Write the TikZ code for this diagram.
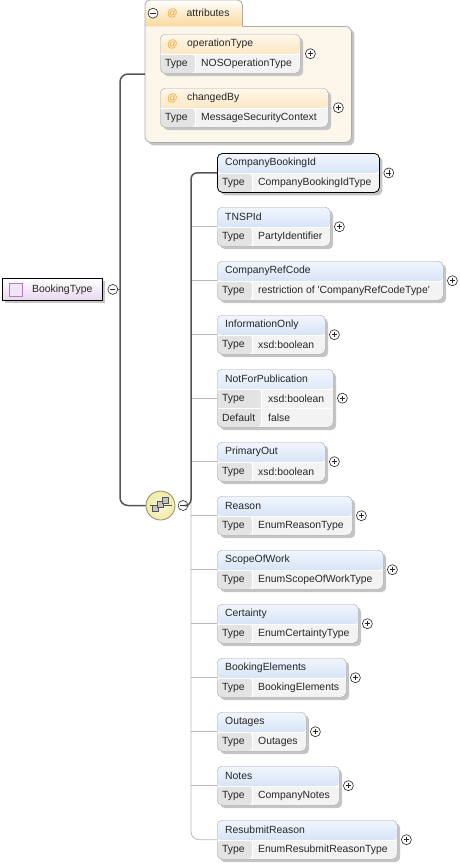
\documentclass[tikz,border=0pt]{standalone}
\usepackage{fontspec}
\setmainfont{Liberation Sans}
\usetikzlibrary{calc}
\usetikzlibrary{shadows}
\definecolor{hdrblue}{HTML}{BCD2F2}
\definecolor{hdrorange}{HTML}{FBD89C}
\definecolor{typegray}{HTML}{E3E3E3}
\definecolor{valgray}{HTML}{F3F3F3}
\definecolor{boxgray}{HTML}{ABABAB}
\definecolor{shadowgray}{HTML}{C4C4C4}
\definecolor{attrfill}{HTML}{FDF6EA}
\definecolor{atorange}{HTML}{EFA030}
\definecolor{linedark}{HTML}{555555}
\definecolor{linelight}{HTML}{B8B8B8}
\definecolor{lavender}{HTML}{E8D6EE}
\definecolor{iconpurple}{HTML}{B07CC4}
\definecolor{seqyellow}{HTML}{F1EBA4}
\definecolor{seqedge}{HTML}{8C8C6E}

\tikzset{
  hdrcolor/.store in=\hdrcol, hdrcolor=hdrblue,
  typecol/.store in=\typecolw, typecol=35pt,
  elembox/.style={draw=boxgray, fill=valgray, rounded corners=5pt, anchor=north west, inner sep=0pt, minimum height=39pt,
    drop shadow={shadow xshift=3pt, shadow yshift=-3pt, fill=shadowgray, opacity=1},
    path picture={
      \shade[top color=white!80!\hdrcol, bottom color=\hdrcol] (path picture bounding box.north west) rectangle ([yshift=-20pt]path picture bounding box.north east);
      \fill[typegray] ([yshift=-20pt]path picture bounding box.north west) rectangle ([xshift=\typecolw]path picture bounding box.south west);
      \draw[white] ([yshift=-20pt]path picture bounding box.north west) -- ([yshift=-20pt]path picture bounding box.north east);
      \draw[white] ([yshift=-20pt, xshift=\typecolw]path picture bounding box.north west) -- ([xshift=\typecolw]path picture bounding box.south west);
    }},
  elemtext/.style={anchor=west, inner sep=0pt, text=black!85, font=\fontsize{10.4}{12}\selectfont},
  area/.style={anchor=north west, inner sep=0pt},
  attrline/.style={draw=boxgray, line width=0.8pt},
  btn/.style={circle, draw=black!85, fill=white, minimum size=10pt, inner sep=0pt, line width=0.6pt},
  plusbtn/.style={btn, path picture={
      \draw[line width=0.6pt] ([xshift=-2.6pt]path picture bounding box.center) -- ([xshift=2.6pt]path picture bounding box.center)
        ([yshift=-2.6pt]path picture bounding box.center) -- ([yshift=2.6pt]path picture bounding box.center);}},
  minusbtn/.style={btn, path picture={
      \draw[line width=0.6pt] ([xshift=-2.6pt]path picture bounding box.center) -- ([xshift=2.6pt]path picture bounding box.center);}},
  mainline/.style={draw=linedark, line width=1.5pt},
  childline/.style={draw=linelight, line width=0.8pt},
  typebox/.style={draw=black, line width=0.8pt, top color=white, bottom color=lavender, anchor=north west, inner sep=0pt,
    drop shadow={shadow xshift=3pt, shadow yshift=-3pt, fill=shadowgray, opacity=1}},
  seqball/.style={circle, draw=seqedge, line width=0.8pt, inner color=white!60!seqyellow, outer color=seqyellow, minimum size=29pt, inner sep=0pt}
}

\begin{document}
\begin{tikzpicture}[x=1pt, y=-1pt]
  \useasboundingbox (0,0) rectangle (460,865);
  \coordinate (trunk) at (120,0);
  \coordinate (bar) at (191,0);
  \coordinate (ain) at (145,74);

  % attributes group
  \node[area, minimum width=206pt, minimum height=116pt] (attrs) at (145,26) {};
  \node[area, minimum width=97pt, minimum height=26pt] (atab) at (145,0) {};
  \fill[shadowgray, rounded corners=6pt] ([shift={(3,3)}]attrs.north west) rectangle ([shift={(3,3)}]attrs.south east);
  \draw[attrline, fill=attrfill, rounded corners=6pt] (atab.south east) -| (attrs.south east) -| (attrs.north west);
  \draw[attrline, top color=white, bottom color=hdrorange, rounded corners=5pt] (atab.south west) |- (atab.north east) -- (atab.south east);
  \node[minusbtn] (am) at ([xshift=8pt]atab.west) {};
  \node[elemtext, text=atorange] (aat) at ([xshift=22pt]atab.west) {@};
  \node[elemtext] (aname) at ([xshift=41.5pt]atab.west) {attributes};

  \foreach \id/\ytop/\boxw/\title/\type in {optype/34/140/operationType/NOSOperationType, chby/88/168/changedBy/MessageSecurityContext} {
    \node[elembox, hdrcolor=hdrorange, minimum width=\boxw pt] (\id) at (160,\ytop) {};
    \node[elemtext, text=atorange] (\id-a) at ([shift={(7,10)}]\id.north west) {@};
    \node[elemtext] (\id-n) at ([shift={(27,10)}]\id.north west) {\title};
    \node[elemtext] (\id-k) at ([shift={(5,29.5)}]\id.north west) {Type};
    \node[elemtext] (\id-v) at ([shift={(41,29.5)}]\id.north west) {\type};
    \node[plusbtn] (\id-p) at ([xshift=10pt]\id.east) {};
  }

  % root
  \node[typebox, minimum width=100pt, minimum height=22pt] (btype) at (2,278) {};
  \node[draw=iconpurple, fill=lavender!60, minimum size=13pt, inner sep=0pt] (bticon) at ([xshift=13.5pt]btype.west) {};
  \node[elemtext] (btname) at ([xshift=30pt]btype.west) {BookingType};
  \node[minusbtn] (btm) at ([xshift=10pt]btype.east) {};

  % sequence
  \node[seqball] (seq) at (160.5,505.5) {};
  \draw[linedark, line width=0.8pt] ([xshift=-11pt]seq.center) -- ([xshift=11pt]seq.center);
  \foreach \dx/\dy in {-5/3, 0/-1, 5/-5}
    \draw[draw=linedark, fill=boxgray!70, line width=0.6pt] ([shift={(\dx-3,\dy-3)}]seq.center) rectangle ([shift={(\dx+3,\dy+3)}]seq.center);
  \node[minusbtn] (seqm) at (183,505.5) {};

  % elements
  \node[elembox, draw=black, line width=0.8pt, minimum width=162pt] (cbi) at (217,153) {};
  \node[elemtext] (cbi-n) at ([shift={(8,10)}]cbi.north west) {CompanyBookingId};
  \node[elemtext] (cbi-k) at ([shift={(5,29.5)}]cbi.north west) {Type};
  \node[elemtext] (cbi-v) at ([shift={(41,29.5)}]cbi.north west) {CompanyBookingIdType};
  \node[plusbtn] (cbi-p) at ([xshift=9pt]cbi.east) {};

  \node[elembox, typecol=44pt, minimum width=116pt, minimum height=58pt] (nfp) at (217,369) {};
  \draw[white] ([shift={(1,39)}]nfp.north west) -- ([shift={(-1,39)}]nfp.north east);
  \node[elemtext] (nfp-n) at ([shift={(8,10)}]nfp.north west) {NotForPublication};
  \node[elemtext] (nfp-k) at ([shift={(5,29.5)}]nfp.north west) {Type};
  \node[elemtext] (nfp-v) at ([shift={(51,29.5)}]nfp.north west) {xsd:boolean};
  \node[elemtext] (nfp-dk) at ([shift={(5,48.5)}]nfp.north west) {Default};
  \node[elemtext] (nfp-dv) at ([shift={(51,48.5)}]nfp.north west) {false};
  \node[plusbtn] (nfp-p) at ([xshift=9pt]nfp.east) {};

  \foreach \id/\ytop/\boxw/\title/\type in {
      tnsp/207/113/TNSPId/PartyIdentifier,
      crc/261/226/CompanyRefCode/restriction of \textquotesingle CompanyRefCodeType\textquotesingle,
      info/315/108/InformationOnly/xsd:boolean,
      prim/442/108/PrimaryOut/xsd:boolean,
      reas/496/135/Reason/EnumReasonType,
      scope/550/166/ScopeOfWork/EnumScopeOfWorkType,
      cert/604/141/Certainty/EnumCertaintyType,
      bkel/658/129/BookingElements/BookingElements,
      outg/712/89/Outages/Outages,
      notes/766/122/Notes/CompanyNotes,
      resub/820/180/ResubmitReason/EnumResubmitReasonType} {
    \node[elembox, minimum width=\boxw pt] (\id) at (217,\ytop) {};
    \node[elemtext] (\id-n) at ([shift={(8,10)}]\id.north west) {\title};
    \node[elemtext] (\id-k) at ([shift={(5,29.5)}]\id.north west) {Type};
    \node[elemtext] (\id-v) at ([shift={(41,29.5)}]\id.north west) {\type};
    \node[plusbtn] (\id-p) at ([xshift=9pt]\id.east) {};
  }

  % connectors
  \foreach \id in {tnsp,crc,info,nfp,prim,reas,scope,cert,bkel,outg,notes}
    \draw[childline] (bar |- \id.west) -- (\id.west);
  \draw[childline, rounded corners=8pt] ($(bar |- cbi.west)+(0,12)$) |- (resub.west);
  \draw[mainline, rounded corners=6pt] (seqm.east) -| (bar |- cbi.west) -- (cbi.west);
  \draw[mainline, rounded corners=8pt] (ain) -| (trunk |- seq.west) -- (seq.west);
  \draw[mainline] (btm.east) -- (trunk |- btm.east);
\end{tikzpicture}
\end{document}
